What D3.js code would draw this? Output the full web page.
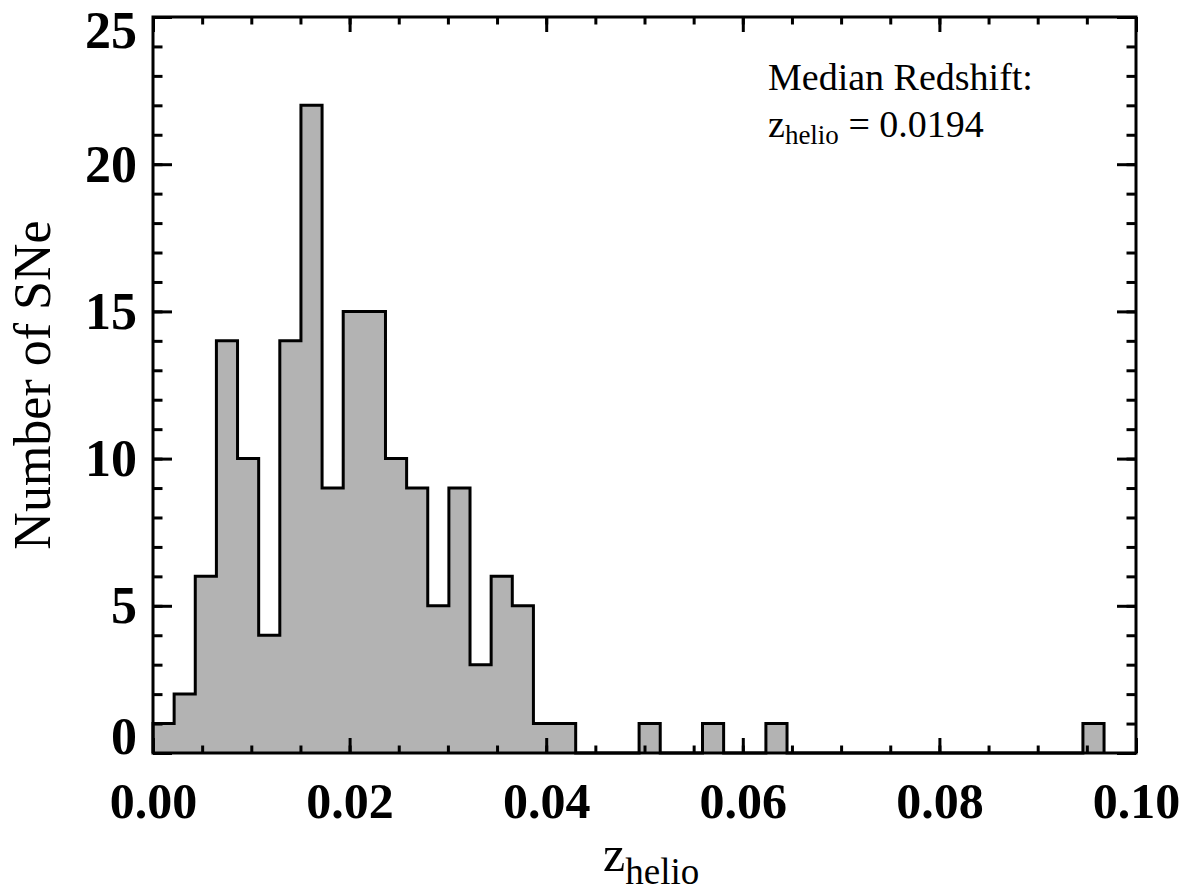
<!DOCTYPE html>
<html>
<head>
<meta charset="utf-8">
<script src="https://cdn.jsdelivr.net/npm/d3@7"></script>
<style>
  body { margin: 0; background: #fff; }
  svg text { font-family: "Liberation Serif", "Times New Roman", serif; fill: #000; }
</style>
</head>
<body>
<div id="chart"></div>
<script>
// histogram of heliocentric redshifts
const binStart = 0;
const binWidth = 0.00215;
const counts = [1, 2, 6, 14, 10, 4, 14, 22, 9, 15,
                15, 10, 9, 5, 9, 3, 6, 5, 1, 1,
                0, 0, 0, 1, 0, 0, 1, 0, 0, 1,
                0, 0, 0, 0, 0, 0, 0, 0, 0, 0,
                0, 0, 0, 0, 1];

const xMajorTicks = [0, 0.02, 0.04, 0.06, 0.08, 0.10];
const xTickLabels = ["0.00", "0.02", "0.04", "0.06", "0.08", "0.10"];
const xMinorTicks = d3.range(0, 0.1001, 0.005);
const yMajorTicks = [0, 5, 10, 15, 20, 25];
const yMinorTicks = d3.range(0, 26, 1);

const medianText = "0.0194";

const margin = { top: 17, right: 54, bottom: 139, left: 153 };
const width = 1190 - margin.left - margin.right;
const height = 892 - margin.top - margin.bottom;

const svg = d3.select("#chart")
  .append("svg")
  .attr("width", 1190)
  .attr("height", 892)
  .append("g")
  .attr("transform", `translate(${margin.left},${margin.top})`);

const x = d3.scaleLinear().domain([0, 0.1]).range([0, width]);
const y = d3.scaleLinear().domain([0, 25]).range([height, 0]);

// step outline points
const pts = [[binStart, 0]];
counts.forEach((c, i) => {
  const x0 = binStart + i * binWidth;
  pts.push([x0, c], [x0 + binWidth, c]);
});
pts.push([binStart + counts.length * binWidth, 0]);

svg.append("path")
  .datum(pts)
  .attr("fill", "#b3b3b3")
  .attr("d", d3.area().x(d => x(d[0])).y0(y(0)).y1(d => y(d[1])));

svg.append("path")
  .datum(pts)
  .attr("fill", "none")
  .attr("stroke", "#000")
  .attr("stroke-width", 3)
  .attr("stroke-linejoin", "miter")
  .attr("d", d3.line().x(d => x(d[0])).y(d => y(d[1])));

function styleAxis(g) {
  g.select(".domain").remove();
  g.selectAll(".tick line").attr("stroke", "#000").attr("stroke-width", 3);
}

// bottom axis
svg.append("g")
  .attr("transform", `translate(0,${height})`)
  .call(d3.axisBottom(x).tickValues(xMinorTicks).tickSize(-7.5).tickFormat(""))
  .call(styleAxis);
svg.append("g")
  .attr("transform", `translate(0,${height})`)
  .call(d3.axisBottom(x).tickValues(xMajorTicks).tickSize(-15)
    .tickFormat((d, i) => xTickLabels[i]))
  .call(styleAxis)
  .call(g => g.selectAll("text")
    .attr("y", 65).attr("dy", 0)
    .attr("font-size", 50).attr("font-weight", "bold"));

// top axis
svg.append("g")
  .call(d3.axisTop(x).tickValues(xMinorTicks).tickSize(-7.5).tickFormat(""))
  .call(styleAxis);
svg.append("g")
  .call(d3.axisTop(x).tickValues(xMajorTicks).tickSize(-15).tickFormat(""))
  .call(styleAxis);

// left axis (end labels kept inside the frame, as in the original)
svg.append("g")
  .call(d3.axisLeft(y).tickValues(yMinorTicks).tickSize(-9.5).tickFormat(""))
  .call(styleAxis);
svg.append("g")
  .call(d3.axisLeft(y).tickValues(yMajorTicks).tickSize(-19).tickPadding(16))
  .call(styleAxis)
  .call(g => g.selectAll("text")
    .attr("dy", 0)
    .attr("y", d => d === 0 ? 0 : d === 25 ? 30 : 17)
    .attr("font-size", 52).attr("font-weight", "bold"));

// right axis
svg.append("g")
  .attr("transform", `translate(${width},0)`)
  .call(d3.axisRight(y).tickValues(yMinorTicks).tickSize(-9.5).tickFormat(""))
  .call(styleAxis);
svg.append("g")
  .attr("transform", `translate(${width},0)`)
  .call(d3.axisRight(y).tickValues(yMajorTicks).tickSize(-19).tickFormat(""))
  .call(styleAxis);

// frame
svg.append("rect")
  .attr("width", width)
  .attr("height", height)
  .attr("fill", "none")
  .attr("stroke", "#000")
  .attr("stroke-width", 3);

// axis titles
svg.append("text")
  .attr("transform", `translate(${-margin.left + 50},${height / 2}) rotate(-90)`)
  .attr("text-anchor", "middle")
  .attr("font-size", 52)
  .text("Number of SNe");

const xt = svg.append("text")
  .attr("x", 450)
  .attr("y", height + 118)
  .attr("font-size", 50);
xt.append("tspan").text("z");
xt.append("tspan").attr("font-size", 37).attr("dy", 13).text("helio");

// annotation
svg.append("text")
  .attr("x", 615)
  .attr("y", 73)
  .attr("font-size", 38)
  .text("Median Redshift:");

const ann = svg.append("text")
  .attr("x", 615)
  .attr("y", 120)
  .attr("font-size", 38);
ann.append("tspan").text("z");
ann.append("tspan").attr("font-size", 27).attr("dy", 7).text("helio");
ann.append("tspan").attr("dy", -7).text(" = " + medianText);
</script>
</body>
</html>
